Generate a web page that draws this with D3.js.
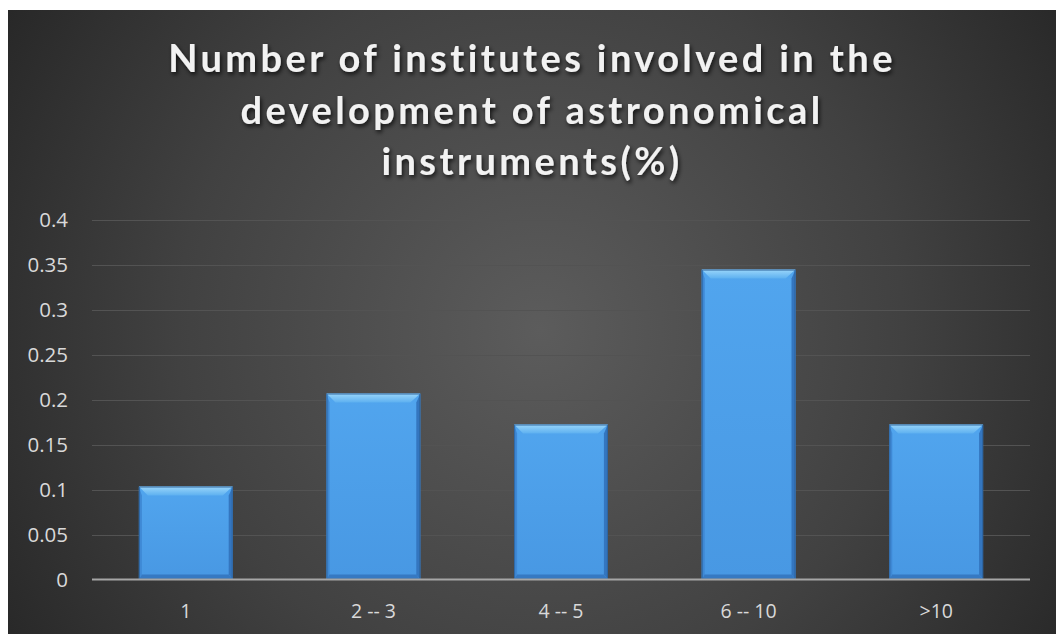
<!DOCTYPE html>
<html>
<head>
<meta charset="utf-8">
<script src="https://cdn.jsdelivr.net/npm/d3@7"></script>
<style>
  html, body { margin: 0; padding: 0; background: #ffffff; }
  svg { display: block; }
</style>
</head>
<body>
<svg id="chart" width="1056" height="634"></svg>
<script>
const titleLines = ["Number of institutes involved in the", "development of astronomical", "instruments(%)"];
const categories = ["1", "2 -- 3", "4 -- 5", "6 -- 10", ">10"];
const values = [0.1034, 0.2069, 0.1724, 0.3448, 0.1724];
const yTicks = [0, 0.05, 0.1, 0.15, 0.2, 0.25, 0.3, 0.35, 0.4];

const W = 1056, H = 634;
const svg = d3.select("#chart");
const defs = svg.append("defs");

// background gradient
const bg = defs.append("radialGradient").attr("id", "bgGrad")
  .attr("gradientUnits", "userSpaceOnUse")
  .attr("cx", 540).attr("cy", 330).attr("r", 660);
bg.append("stop").attr("offset", "0%").attr("stop-color", "#5c5c5c");
bg.append("stop").attr("offset", "55%").attr("stop-color", "#414141");
bg.append("stop").attr("offset", "100%").attr("stop-color", "#242424");

const shadow = defs.append("filter").attr("id", "tshadow")
  .attr("x", "-10%").attr("y", "-30%").attr("width", "120%").attr("height", "160%");
shadow.append("feDropShadow").attr("dx", 1.5).attr("dy", 2.5).attr("stdDeviation", 2)
  .attr("flood-color", "#000").attr("flood-opacity", 0.75);

const topGrad = defs.append("linearGradient").attr("id", "topBevel").attr("x1", 0).attr("y1", 0).attr("x2", 0).attr("y2", 1);
topGrad.append("stop").attr("offset", "0%").attr("stop-color", "#9ad6fa");
topGrad.append("stop").attr("offset", "100%").attr("stop-color", "#5db0f0");

const faceGrad = defs.append("linearGradient").attr("id", "face").attr("x1", 0).attr("y1", 0).attr("x2", 0).attr("y2", 1);
faceGrad.append("stop").attr("offset", "0%").attr("stop-color", "#51a5ee");
faceGrad.append("stop").attr("offset", "100%").attr("stop-color", "#4898e3");

svg.append("rect").attr("x", 8).attr("y", 10).attr("width", W - 8).attr("height", H - 10)
  .attr("fill", "url(#bgGrad)");

// title
const title = svg.append("g").attr("filter", "url(#tshadow)");
const tl = title.selectAll("text").data(titleLines).join("text")
  .attr("x", 532)
  .attr("y", (d, i) => 72 + i * 51.5)
  .attr("text-anchor", "middle")
  .attr("font-family", "Lato, 'Open Sans', sans-serif")
  .attr("font-weight", "bold")
  .attr("font-size", 38)
  .attr("fill", "#f2f2f2")
  .text(d => d);
// fit letter spacing so first line spans ~725px
const w0 = tl.nodes()[0].getComputedTextLength();
const ls = Math.max(0, (725 - w0) / (titleLines[0].length - 1));
tl.attr("letter-spacing", ls);

// scales
const x = d3.scaleBand().domain(categories).range([92, 1030]).paddingInner(0.5).paddingOuter(0.25);
const y = d3.scaleLinear().domain([0, 0.4]).range([579.5, 220]);

// gridlines
svg.append("g").selectAll("line").data(yTicks.filter(t => t > 0)).join("line")
  .attr("x1", 92).attr("x2", 1030)
  .attr("y1", d => Math.round(y(d)) + 0.5).attr("y2", d => Math.round(y(d)) + 0.5)
  .attr("stroke", "#535353").attr("stroke-width", 1);

// y axis labels
const yAxis = svg.append("g").attr("transform", "translate(68,0)")
  .call(d3.axisLeft(y).tickValues(yTicks).tickSize(0).tickPadding(0).tickFormat(d => String(+d.toFixed(2))));
yAxis.select(".domain").remove();
yAxis.selectAll("text")
  .attr("font-family", "'Open Sans', sans-serif").attr("font-size", 20.5)
  .attr("fill", "#d9d9d9").attr("dy", "0.34em");

// bars with bevel
const bars = svg.append("g").selectAll("g").data(categories.map((c, i) => ({ c, v: values[i] }))).join("g");
const tb = 9, sb = 3, bb = 5;
bars.each(function(d) {
  const g = d3.select(this);
  const x0 = x(d.c), x1 = x(d.c) + x.bandwidth();
  const y0 = y(d.v), y1 = y(0);
  g.append("rect").attr("x", x0).attr("y", y0).attr("width", x1 - x0).attr("height", y1 - y0)
    .attr("fill", "url(#face)");
  g.append("polygon").attr("points", [[x0, y0], [x0 + sb, y0 + tb], [x0 + sb, y1 - bb], [x0, y1]].join(" "))
    .attr("fill", "#3f89d5");
  g.append("polygon").attr("points", [[x1, y0], [x1 - sb - 1, y0 + tb], [x1 - sb - 1, y1 - bb], [x1, y1]].join(" "))
    .attr("fill", "#3476bf");
  g.append("polygon").attr("points", [[x0, y1], [x0 + sb, y1 - bb], [x1 - sb - 1, y1 - bb], [x1, y1]].join(" "))
    .attr("fill", "#3679c2");
  g.append("polygon").attr("points", [[x0, y0], [x1, y0], [x1 - sb - 1 - 6, y0 + tb], [x0 + sb + 6, y0 + tb]].join(" "))
    .attr("fill", "url(#topBevel)");
  g.append("rect").attr("x", x0 + 0.5).attr("y", y0 + 0.5).attr("width", x1 - x0 - 1).attr("height", y1 - y0 - 1)
    .attr("fill", "none").attr("stroke", "#2b5f99").attr("stroke-width", 1).attr("stroke-opacity", 0.8);
});

// x axis line
svg.append("line").attr("x1", 92).attr("x2", 1030).attr("y1", y(0)).attr("y2", y(0))
  .attr("stroke", "#a6a6a6").attr("stroke-width", 2);

// x labels
const xAxis = svg.append("g").attr("transform", `translate(0,${y(0)})`)
  .call(d3.axisBottom(x).tickSize(0).tickPadding(0));
xAxis.select(".domain").remove();
xAxis.selectAll("text")
  .attr("font-family", "'Open Sans', sans-serif").attr("font-size", 19.5)
  .attr("fill", "#d9d9d9").attr("y", 38.5).attr("dy", 0);
</script>
</body>
</html>
